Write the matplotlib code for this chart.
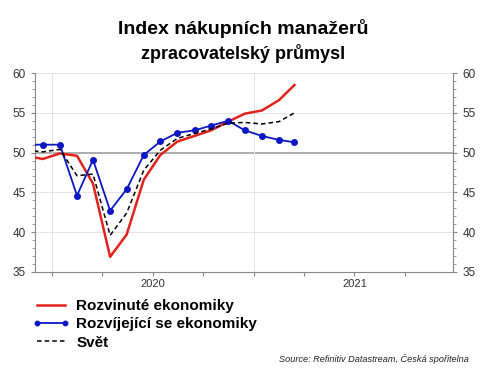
import datetime as dt
import matplotlib
matplotlib.use("Agg")
import matplotlib.pyplot as plt
import matplotlib.dates as mdates
from matplotlib.ticker import MultipleLocator, FixedLocator

plt.rcParams['font.family'] = ['Liberation Sans', 'DejaVu Sans']

# monthly PMI, Nov 2019 .. Mar 2021 (plotted mid-month)
MONTHS = [dt.datetime((2019 * 12 + 10 + k) // 12, (2019 * 12 + 10 + k) % 12 + 1, 15)
          for k in range(17)]
DEVELOPED = [49.6, 49.2, 49.9, 49.6, 46.1, 36.9, 39.7, 46.6, 49.7, 51.4,
             52.1, 52.8, 53.9, 54.9, 55.3, 56.6, 58.5]
EMERGING = [51.0, 51.0, 51.0, 44.6, 49.1, 42.7, 45.4, 49.7, 51.4, 52.5,
            52.8, 53.4, 54.0, 52.8, 52.1, 51.6, 51.3]
WORLD = [50.3, 50.1, 50.4, 47.1, 47.3, 39.6, 42.4, 47.8, 50.3, 51.8,
         52.4, 53.0, 53.7, 53.8, 53.6, 53.9, 55.0]

LABELS = ["Rozvinuté ekonomiky", "Rozvíjející se ekonomiky", "Svět"]
YEAR_LABELS = ["2020", "2021"]

fig = plt.figure(figsize=(4.87, 3.73), dpi=100)
ax = fig.add_axes([0.072, 0.271, 0.859, 0.533])

ax.plot(MONTHS, DEVELOPED, color="#e0231c", lw=1.8, label=LABELS[0], zorder=4)
ax.plot(MONTHS, EMERGING, color="#0c17c4", lw=1.3, marker="o", ms=4,
        label=LABELS[1], zorder=5)
ax.plot(MONTHS, WORLD, color="black", lw=1.1, ls=(0, (3, 2)), label=LABELS[2], zorder=6)

ax.set_xlim(dt.datetime(2019, 12, 1), dt.datetime(2021, 12, 28))
ax.set_ylim(35, 60)

# gridlines
for v in range(35, 61, 5):
    if v == 50:
        ax.axhline(v, color="#a0a0a0", lw=1.2, zorder=1)
    else:
        ax.axhline(v, color="#e4e4e4", lw=0.7, zorder=1)
for year in (2020, 2021):
    ax.axvline(dt.datetime(year, 1, 1), color="#e4e4e4", lw=0.7, zorder=1)

# x axis: quarter ticks, year labels in the middle
ax.xaxis.set_major_locator(mdates.MonthLocator(bymonth=[1, 4, 7, 10]))
ax.xaxis.set_major_formatter(plt.NullFormatter())
ax.xaxis.set_minor_locator(FixedLocator([mdates.date2num(dt.datetime(int(y), 7, 2))
                                         for y in YEAR_LABELS]))
ax.xaxis.set_minor_formatter(plt.FixedFormatter(YEAR_LABELS))
ax.tick_params(axis="x", which="major", length=3, color="#888888")
ax.tick_params(axis="x", which="minor", length=0, pad=5, labelsize=8, labelcolor="#333333")

# y axis on both sides
ax.yaxis.set_major_locator(MultipleLocator(5))
ax.yaxis.set_minor_locator(MultipleLocator(1))
ax.tick_params(axis="y", which="both", left=True, right=True, labelleft=True,
               labelright=True, color="#888888", labelsize=8.5, labelcolor="#333333",
               direction="out")
ax.tick_params(axis="y", which="major", length=3)
ax.tick_params(axis="y", which="minor", length=2)

for side in ("left", "right", "bottom"):
    ax.spines[side].set_color("#888888")
ax.spines["top"].set_visible(False)

fig.text(0.5, 0.924, "Index nákupních manažerů", ha="center", va="center",
         fontsize=14, fontweight="bold")
fig.text(0.5, 0.856, "zpracovatelský průmysl", ha="center", va="center",
         fontsize=13, fontweight="bold")

fig.legend(loc="upper left", bbox_to_anchor=(0.066, 0.198), frameon=False,
           handlelength=2.45, handletextpad=0.45, labelspacing=0.28, numpoints=2,
           borderaxespad=0, borderpad=0, markerscale=0.8,
           prop={"size": 11, "weight": "bold"})

fig.text(0.962, 0.038, "Source: Refinitiv Datastream, Česká spořitelna", ha="right",
         va="center", fontsize=6.6, style="italic", color="#222222")

fig.savefig("out.png", dpi=100, facecolor="white")
